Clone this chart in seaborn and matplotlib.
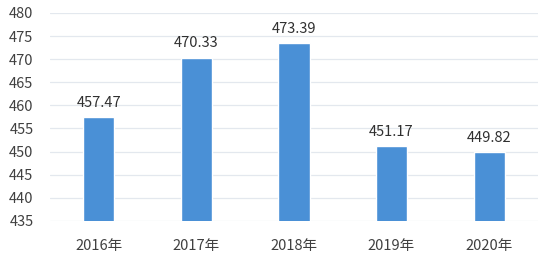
import matplotlib
matplotlib.use("Agg")
import matplotlib.pyplot as plt
import seaborn as sns
import pandas as pd

years = ["2016年", "2017年", "2018年", "2019年", "2020年"]
values = [457.47, 470.33, 473.39, 451.17, 449.82]
yticks = [435, 440, 445, 450, 455, 460, 465, 470, 475, 480]

sns.set_theme(style="white")
plt.rcParams['font.family'] = ['Noto Sans CJK SC', 'DejaVu Sans']

df = pd.DataFrame({"year": years, "value": values})

fig = plt.figure(figsize=(5.5, 2.63), dpi=100)
ax = fig.add_axes([0.091, 0.160, 0.887, 0.791])
sns.barplot(data=df, x="year", y="value", color="#4a90d6", saturation=1,
            width=0.32, ax=ax, zorder=3)
ax.set_ylim(435, 480)
ax.set_yticks(yticks)
ax.set_yticklabels([str(t) for t in yticks])
ax.grid(axis="y", color="#e3e8ee", linewidth=0.9, zorder=0)
ax.set_axisbelow(True)
for s in ax.spines.values():
    s.set_visible(False)
ax.set_xlabel("")
ax.set_ylabel("")
ax.tick_params(axis="both", length=0, labelsize=10.5, colors="#404040")
ax.tick_params(axis="x", pad=13)
ax.tick_params(axis="y", pad=12)
for i, v in enumerate(values):
    ax.text(i, v + 1.6, f"{v:.2f}", ha="center", va="bottom", fontsize=10.5, color="#303030")
fig.savefig("out.png", dpi=100)
